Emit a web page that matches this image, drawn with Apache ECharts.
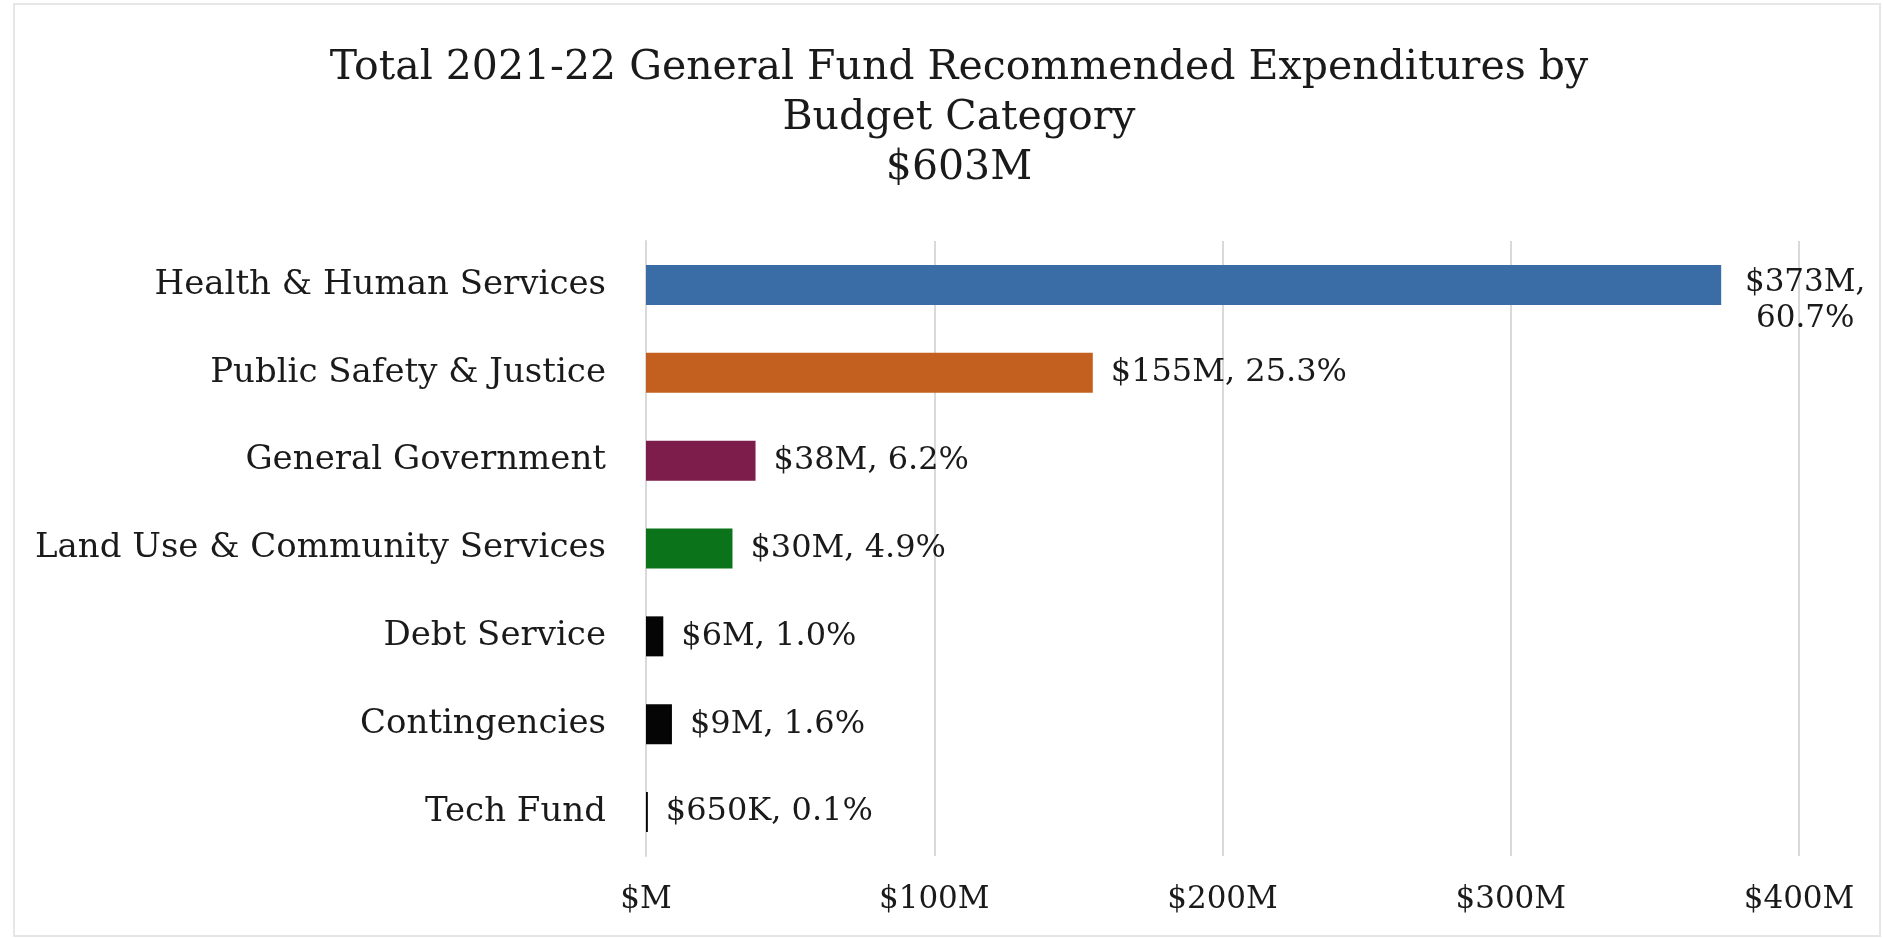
<!DOCTYPE html>
<html>
<head>
<meta charset="utf-8">
<script src="https://cdn.jsdelivr.net/npm/echarts@6/dist/echarts.min.js"></script>
<style>
html,body{margin:0;padding:0;background:#fff;}
#chart{width:1883px;height:939px;}
</style>
</head>
<body>
<div id="chart"></div>
<script>
const categories = ["Health & Human Services","Public Safety & Justice","General Government","Land Use & Community Services","Debt Service","Contingencies","Tech Fund"];
const valuesM = [373, 155, 38, 30, 6, 9, 0.65];
const amountLabels = ["$373M","$155M","$38M","$30M","$6M","$9M","$650K"];
const percentLabels = ["60.7%","25.3%","6.2%","4.9%","1.0%","1.6%","0.1%"];
const barColors = ["#3a6ca6","#c4601f","#7c1d4b","#0b741a","#050505","#050505","#050505"];
const xTicks = [0, 100, 200, 300, 400];

const font = "DejaVu Serif";
const chart = echarts.init(document.getElementById('chart'));
chart.setOption({
  backgroundColor: '#ffffff',
  animation: false,
  title: {
    text: 'Total 2021-22 General Fund Recommended Expenditures by\nBudget Category\n$603M',
    left: 954,
    top: 38,
    textAlign: 'center',
    textStyle: { fontFamily: font, fontSize: 41, fontWeight: 'normal', color: '#1a1a1a', lineHeight: 50 }
  },
  graphic: [{
    type: 'rect', shape: { x: 14, y: 4, width: 1866, height: 932 },
    style: { fill: 'none', stroke: '#e6e6e6', lineWidth: 2 }, silent: true
  }],
  grid: { left: 646, right: 84, top: 241, bottom: 83, containLabel: false },
  xAxis: {
    type: 'value', min: xTicks[0], max: xTicks[xTicks.length - 1], interval: 100,
    axisLine: { show: false }, axisTick: { show: false },
    splitLine: { lineStyle: { color: '#d9d9d9', width: 2 } },
    axisLabel: {
      fontFamily: font, fontSize: 31, color: '#1a1a1a', margin: 28,
      formatter: v => v === 0 ? '$M' : '$' + v + 'M'
    }
  },
  yAxis: {
    type: 'category', data: categories, inverse: true,
    axisLine: { lineStyle: { color: '#d9d9d9', width: 2 } },
    axisTick: { show: false },
    axisLabel: { fontFamily: font, fontSize: 34, color: '#1a1a1a', margin: 40 }
  },
  series: [{
    type: 'bar',
    barWidth: 40,
    data: valuesM.map((v, i) => ({
      value: v,
      itemStyle: { color: barColors[i] },
      label: i === 0 ? {
        distance: 20,
        offset: [0, 16],
        formatter: '{a|' + amountLabels[i] + ',}\n{a|' + percentLabels[i] + '}'
      } : {}
    })),
    label: {
      show: true, position: 'right', distance: 18,
      fontFamily: font, fontSize: 32, color: '#1a1a1a',
      formatter: p => amountLabels[p.dataIndex] + ', ' + percentLabels[p.dataIndex],
      rich: { a: { fontFamily: font, fontSize: 31, color: '#1a1a1a', width: 128, align: 'center', lineHeight: 36 } }
    }
  }]
});
</script>
</body>
</html>
